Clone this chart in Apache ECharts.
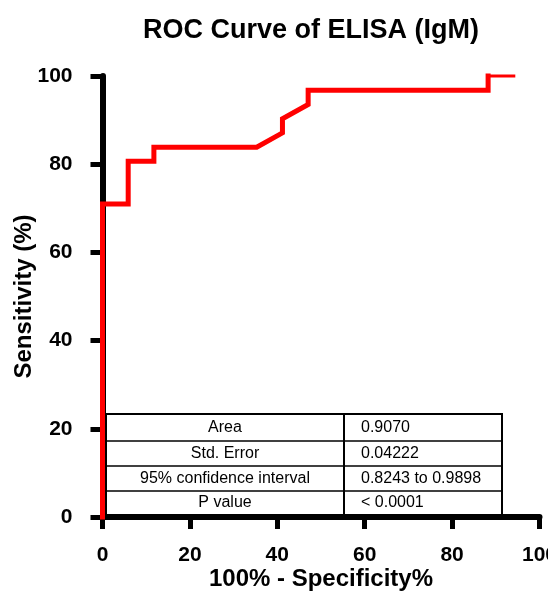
<!DOCTYPE html>
<html>
<head>
<meta charset="utf-8">
<script src="https://cdn.jsdelivr.net/npm/echarts@6/dist/echarts.min.js"></script>
<style>
html,body{margin:0;padding:0;background:#fff;}
#c{width:548px;height:593px;}
</style>
</head>
<body>
<div id="c"></div>
<script>
// ROC curve data (x = 100% - Specificity%, y = Sensitivity %)
const fpr = [0, 0, 5.88, 5.88, 11.76, 11.76, 35.29, 41.18, 41.18, 47.06, 47.06, 88.24, 88.24];
const tpr = [0, 70.97, 70.97, 80.65, 80.65, 83.87, 83.87, 87.10, 90.32, 93.55, 96.77, 96.77, 100];
const fprTail = [88.24, 94.12];
const tprTail = [100, 100];
const xTicks = [0, 20, 40, 60, 80, 100];
const yTicks = [0, 20, 40, 60, 80, 100];
const tableLabels = ["Area", "Std. Error", "95% confidence interval", "P value"];
const tableValues = ["0.9070", "0.04222", "0.8243 to 0.9898", "< 0.0001"];

const chart = echarts.init(document.getElementById('c'), null, {renderer: 'canvas'});
const FONT = '"Liberation Sans", Arial, sans-serif';

const mainData = fpr.map((x, i) => [x, tpr[i]]);
const tailData = fprTail.map((x, i) => [x, tprTail[i]]);

// table geometry
const tL = 106, tR = 502, tTop = 414, tBot = 515, colX = 344;
const rowLines = [441, 466, 491];
const rowCenters = [427.5, 453.5, 478.5, 503];
const tableEls = [];
tableEls.push({type: 'rect', shape: {x: tL, y: tTop, width: tR - tL, height: tBot - tTop},
  style: {fill: 'none', stroke: '#000', lineWidth: 2}, z: 5});
rowLines.forEach(y => tableEls.push({type: 'line', shape: {x1: tL, y1: y, x2: tR, y2: y},
  style: {stroke: '#000', lineWidth: 1.5}, z: 5}));
tableEls.push({type: 'line', shape: {x1: colX, y1: tTop, x2: colX, y2: tBot},
  style: {stroke: '#000', lineWidth: 2}, z: 5});
tableLabels.forEach((t, i) => tableEls.push({type: 'text', x: (tL + colX) / 2, y: rowCenters[i],
  style: {text: t, fill: '#000', font: '16px ' + FONT, textAlign: 'center', textVerticalAlign: 'middle'}, z: 6}));
tableValues.forEach((t, i) => tableEls.push({type: 'text', x: 361, y: rowCenters[i],
  style: {text: t, fill: '#000', font: '16px ' + FONT, textAlign: 'left', textVerticalAlign: 'middle'}, z: 6}));

chart.setOption({
  animation: false,
  backgroundColor: '#fff',
  title: {
    text: 'ROC Curve of ELISA (IgM)',
    left: 306, top: 12, textAlign: 'center',
    textStyle: {fontFamily: FONT, fontWeight: 'bold', fontSize: 27, color: '#000'}
  },
  grid: {left: 102.5, right: 8.5, top: 76, bottom: 76, containLabel: false, outerBoundsMode: 'none'},
  xAxis: {
    type: 'value', min: 0, max: 100, interval: 20,
    name: '100% - Specificity%', nameLocation: 'middle', nameGap: 50, nameMoveOverlap: false,
    nameTextStyle: {fontFamily: FONT, fontWeight: 'bold', fontSize: 24, color: '#000'},
    axisLine: {lineStyle: {color: '#000', width: 6}},
    axisTick: {show: true, length: 12, lineStyle: {color: '#000', width: 5}},
    axisLabel: {margin: 28, fontFamily: FONT, fontWeight: 'bold', fontSize: 21, color: '#000',
      formatter: v => xTicks.includes(v) ? String(v) : ''},
    splitLine: {show: false}
  },
  yAxis: {
    type: 'value', min: 0, max: 100, interval: 20,
    name: 'Sensitivity (%)', nameLocation: 'middle', nameGap: 66, nameRotate: 90, nameMoveOverlap: false,
    nameTextStyle: {fontFamily: FONT, fontWeight: 'bold', fontSize: 24, color: '#000'},
    axisLine: {show: true, lineStyle: {color: '#000', width: 6}},
    axisTick: {show: true, length: 12, lineStyle: {color: '#000', width: 5}},
    axisLabel: {margin: 30, fontFamily: FONT, fontWeight: 'bold', fontSize: 21, color: '#000',
      formatter: v => yTicks.includes(v) ? String(v) : ''},
    splitLine: {show: false}
  },
  series: [
    {type: 'line', data: mainData, showSymbol: false, symbol: 'none', clip: false, z: 3,
      lineStyle: {color: '#ff0000', width: 5, join: 'miter', cap: 'square'}},
    {type: 'line', data: tailData, showSymbol: false, symbol: 'none', clip: false, z: 3,
      lineStyle: {color: '#ff0000', width: 3, cap: 'square'}}
  ],
  graphic: tableEls
});
</script>
</body>
</html>
